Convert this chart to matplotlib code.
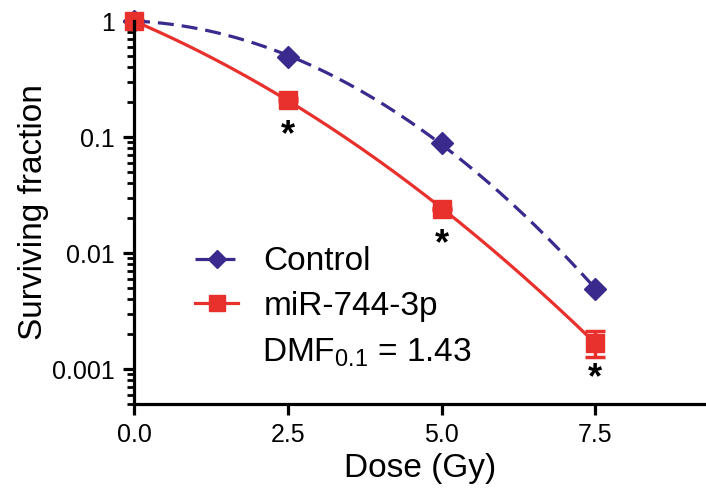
import numpy as np
import matplotlib
matplotlib.use("Agg")
import matplotlib.pyplot as plt

plt.rcParams['font.family'] = ['Liberation Sans', 'DejaVu Sans']
plt.rcParams['mathtext.default'] = 'regular'

# data
dose = [0.0, 2.5, 5.0, 7.5]
control = [1.0, 0.49, 0.089, 0.0049]
control_err = [0.0, 0.01, 0.002, 0.0001]
mir = [1.0, 0.21, 0.024, 0.00168]
mir_err_lo = [0.0, 0.005, 0.0005, 0.00041]
mir_err_hi = [0.0, 0.005, 0.0005, 0.00045]
star_x = [2.5, 5.0, 7.5]
star_y = [0.21, 0.024, 0.00168]

c_ctrl = '#3b2a8e'
c_mir = '#e8302c'


def lq_fit(d, s):
    # linear-quadratic fit: -ln S = a*D + b*D^2
    d = np.asarray(d)
    A = np.column_stack([d, d ** 2])
    coef, *_ = np.linalg.lstsq(A, -np.log(s), rcond=None)
    dd = np.linspace(0, max(d), 200)
    return dd, np.exp(-(coef[0] * dd + coef[1] * dd ** 2))


fig = plt.figure(figsize=(7.06, 5.03), dpi=100)
ax = fig.add_axes([134 / 706, 99 / 503, 1 - 134 / 706, 383 / 503])

dx, fc = lq_fit(dose, control)
ax.plot(dx, fc, color=c_ctrl, lw=2.3, ls=(0, (5, 2.5)), clip_on=False)
dx, fm = lq_fit(dose, mir)
ax.plot(dx, fm, color=c_mir, lw=2.3, clip_on=False)

ax.errorbar(dose, control, yerr=control_err, fmt='D', color=c_ctrl, ms=11,
            capsize=6, capthick=2.3, elinewidth=2.3, clip_on=False)
ax.errorbar(dose, mir, yerr=[mir_err_lo, mir_err_hi], fmt='s', color=c_mir, ms=13,
            capsize=7, capthick=2.5, elinewidth=2.5, clip_on=False)

for x, y in zip(star_x, star_y):
    ax.annotate('*', (x, y), xytext=(0, -13), textcoords='offset points',
                ha='center', va='top', fontsize=26, fontweight='bold')

# legend handles
h1, = ax.plot([], [], color=c_ctrl, lw=2.3, ls=(0, (5, 2.5)), marker='D', ms=9)
h2, = ax.plot([], [], color=c_mir, lw=2.3, marker='s', ms=11)
ax.legend([h1, h2], ['Control', 'miR-744-3p'], loc='center left',
          bbox_to_anchor=(195 / 706, (503 - 284) / 503),
          bbox_transform=fig.transFigure, frameon=False, fontsize=24,
          handlelength=1.3, handletextpad=0.75, labelspacing=0.4,
          borderpad=0, borderaxespad=0)
ax.text(262 / 706, 150 / 503, 'DMF$_{0.1}$ = 1.43', transform=fig.transFigure,
        fontsize=24, va='center', ha='left')

ax.set_yscale('log')
ax.set_ylim(5e-4, 1)
ax.set_xlim(0, 9.3)
ax.set_xticks([0, 2.5, 5.0, 7.5])
ax.set_xticklabels(['0.0', '2.5', '5.0', '7.5'])
ax.set_yticks([1, 0.1, 0.01, 0.001])
ax.set_yticklabels(['1', '0.1', '0.01', '0.001'])

for s in ['top', 'right']:
    ax.spines[s].set_visible(False)
for s in ['left', 'bottom']:
    ax.spines[s].set_linewidth(2.3)
ax.tick_params(axis='both', which='major', width=2.3, length=8, labelsize=18, pad=6)
ax.tick_params(axis='y', which='minor', width=2.0, length=5)

ax.set_xlabel('Dose (Gy)', fontsize=24, labelpad=4)
ax.set_ylabel('Surviving fraction', fontsize=24, labelpad=2)

fig.savefig('out.png', dpi=100)
